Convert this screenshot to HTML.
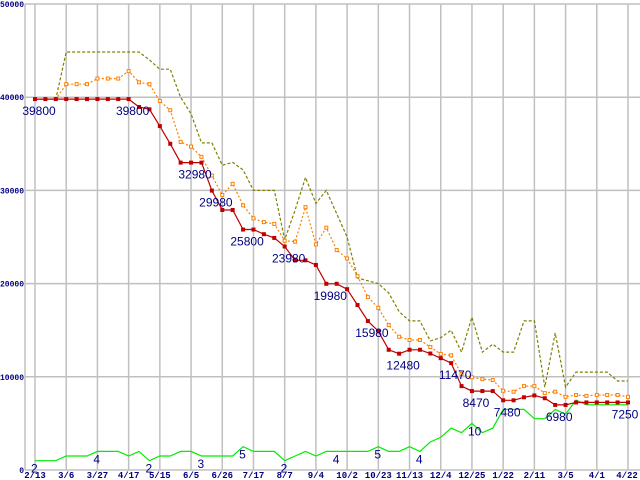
<!DOCTYPE html>
<html><head><meta charset="utf-8"><style>
body{margin:0;background:#fff;}
svg{display:block;font-family:"Liberation Sans",sans-serif;}
.yt{font-family:"Liberation Mono",monospace;font-size:8px;font-weight:bold;fill:#000080;}
.xt{font-family:"Liberation Mono",monospace;font-size:9px;font-weight:bold;fill:#000080;}
.lab{font-size:12px;fill:#000080;}
</style></head><body>
<svg id="chart" width="640" height="480" viewBox="0 0 640 480" xmlns="http://www.w3.org/2000/svg">
<g id="grid"></g>
<g id="series"></g>
<g id="labels"></g>
</svg>
<script>
const xTickLabels=["2/13","3/6","3/27","4/17","5/15","6/5","6/26","7/17","8/7","9/4","10/2","10/23","11/13","12/4","12/25","1/22","2/11","3/5","4/1","4/22"];
const yTicks=[0,10000,20000,30000,40000,50000];
const minPrice=[39800,39800,39800,39800,39800,39800,39800,39800,39800,39800,38950,38700,36900,35000,32980,32980,32980,29980,27900,27900,25800,25800,25300,24900,23980,22500,22500,22000,19980,19980,19400,17700,15980,14900,12900,12480,12900,12900,12500,12000,11470,9000,8470,8470,8470,7480,7480,7800,8000,7700,6980,6980,7250,7250,7250,7250,7250,7250];
const avgPrice=[39800,39800,39800,41400,41400,41400,42000,42000,42000,42800,41600,41400,39600,38600,35200,34700,33600,31600,29500,30700,28400,27000,26600,26400,24600,24500,28200,24200,26000,23600,22700,20800,18550,17400,15550,14300,13950,13950,13200,12450,12300,10300,9950,9750,9650,8500,8400,9000,9000,8250,8400,7850,8050,7950,8050,8050,8050,7850];
const maxPrice=[39800,39800,39800,44850,44850,44850,44850,44850,44850,44850,44850,44000,43000,43000,40000,38200,35100,35100,32700,33000,32200,30000,30000,30000,24700,27900,31400,28600,30000,27500,25000,20600,20300,20000,19000,17000,16000,16000,13850,14200,15000,12650,16400,12650,13500,12650,12650,16000,16000,8900,14700,8900,10500,10500,10500,10500,9550,9550];
const shopCount=[2,2,2,3,3,3,4,4,4,3,4,2,3,3,4,4,3,3,3,3,5,4,4,4,2,3,4,3,4,4,4,4,4,5,4,4,5,4,6,7,9,8,10,8,9,13,13,13,11,11,13,12,15,14,14,14,14,14];
const priceLabelIdx=[0,9,15,17,20,24,28,32,35,40,42,45,50,57];
const countLabelIdx=[0,6,11,16,20,24,29,33,37,42];

const NS="http://www.w3.org/2000/svg";
const L=25,T=4,B=470,X0=35,DX=(628-35)/57,TICKDX=(628-35)/19;
const x=i=>X0+i*DX;
const y=v=>B-(v/50000)*(B-T);
const yc=c=>B-(c/100)*(B-T);
function mk(tag,parent,attrs){const e=document.createElementNS(NS,tag);for(const k in attrs)e.setAttribute(k,attrs[k]);parent.appendChild(e);return e;}
const grid=document.getElementById('grid'),ser=document.getElementById('series'),lab=document.getElementById('labels');
yTicks.forEach(v=>{
  const l=mk('line',grid,{x1:L,x2:640,y1:y(v),y2:y(v),stroke:'#c0c0c0','stroke-width':1.5});
  
  
  const t=mk('text',grid,{x:L-1,y:y(v)+3,'text-anchor':'end',class:'yt'});
  t.textContent=String(v);
  
  
});
xTickLabels.forEach((s,k)=>{
  const xx=X0+k*TICKDX;
  const l=mk('line',grid,{x1:xx,x2:xx,y1:T,y2:B,stroke:'#c0c0c0','stroke-width':1.5});
  
  
  const t=mk('text',grid,{x:Math.min(xx,627),y:478,'text-anchor':'middle',class:'xt'});
  t.textContent=s;
  
  
});
const ax=mk('line',grid,{x1:L,x2:L,y1:T,y2:B,stroke:'#c0c0c0','stroke-width':1.5});



function path(arr,fy,stroke,dash,name){
  const d=arr.map((v,i)=>(i?'L':'M')+x(i).toFixed(1)+' '+fy(v).toFixed(1)).join(' ');
  const p=mk('path',ser,{d:d,fill:'none',stroke:stroke,'stroke-width':1.2});
  if(dash)p.setAttribute('stroke-dasharray',dash);
  
  
}
path(shopCount,yc,'#00ee00',null,'shop-count-line');
path(maxPrice,y,'#808000','3,2','max-price-line');
path(avgPrice,y,'#ff8000','2,2','avg-price-line');
path(minPrice,y,'#c00000',null,'min-price-line');
avgPrice.forEach((v,i)=>{
  if(i<3)return;
  const r=mk('rect',ser,{x:x(i)-1.5,y:y(v)-1.5,width:3,height:3,fill:'#fff',stroke:'#ff8000','stroke-width':1});
  
  
});
minPrice.forEach((v,i)=>{
  const r=mk('rect',ser,{x:x(i)-2,y:y(v)-2,width:4,height:4,fill:'#c00000'});
  
  
});
priceLabelIdx.forEach(i=>{
  const cx=Math.min(x(i)+4,625);
  const t=mk('text',lab,{x:cx,y:y(minPrice[i])+16,'text-anchor':'middle',class:'lab'});
  t.textContent=String(minPrice[i]);
  
  
});
countLabelIdx.forEach(i=>{
  const t=mk('text',lab,{x:x(i)-4,y:yc(shopCount[i])+12,'text-anchor':'start',class:'lab'});
  t.textContent=String(shopCount[i]);
  
  
});
</script>
</body></html>
